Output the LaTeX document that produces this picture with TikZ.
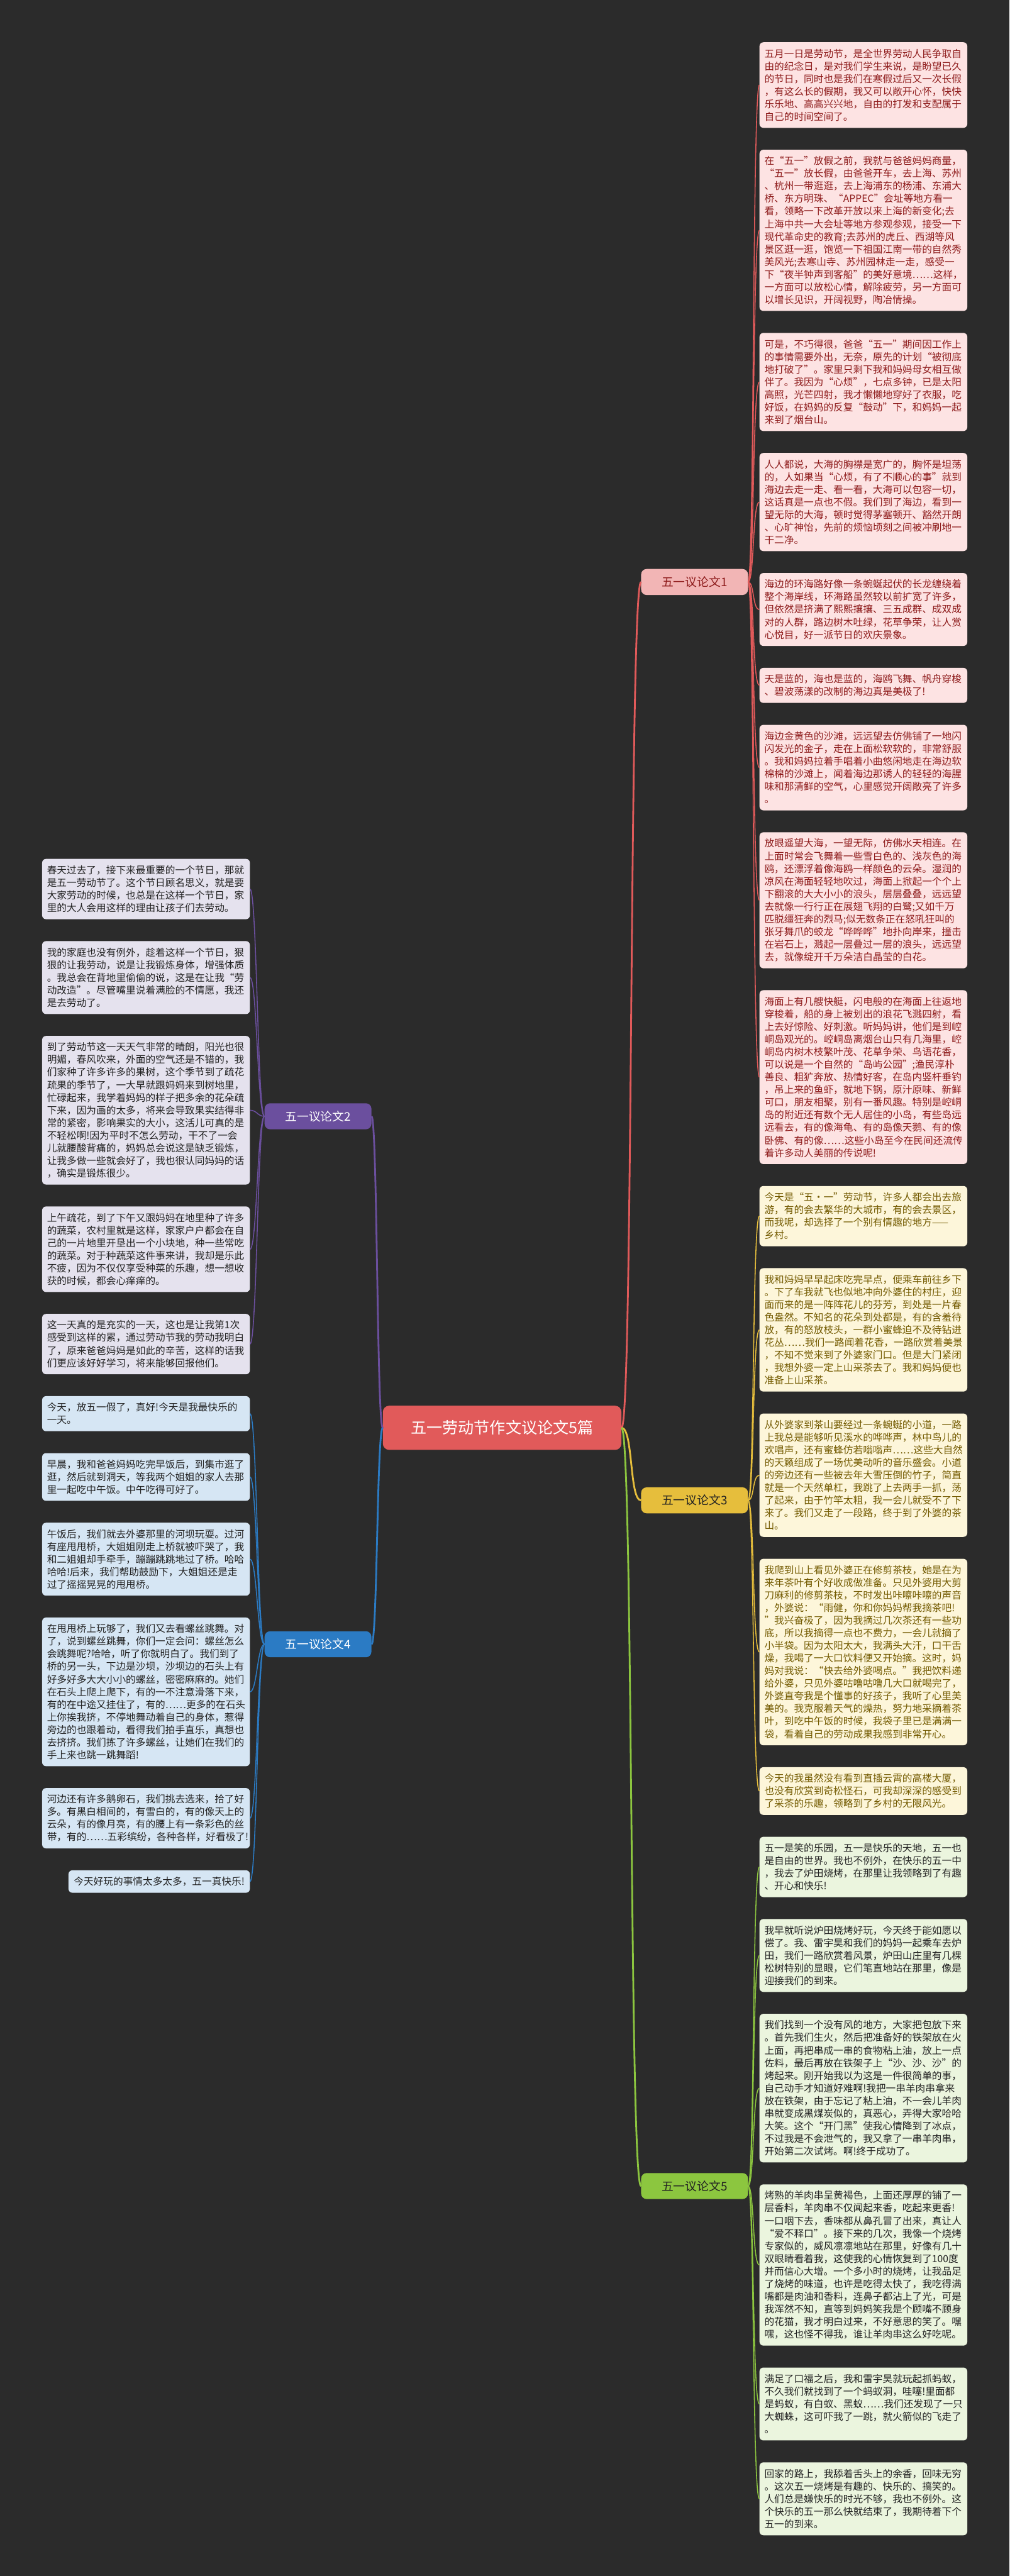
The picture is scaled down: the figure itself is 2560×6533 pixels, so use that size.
\documentclass[tikz,border=0pt]{standalone}
\usepackage{fontspec}
\setmainfont{Noto Sans CJK SC}
\definecolor{bg}{HTML}{2B2B2B}
\definecolor{ga}{HTML}{E15A5A}
\definecolor{gafill}{HTML}{FDE3E3}
\definecolor{gatext}{HTML}{8E1B1B}
\definecolor{gb}{HTML}{6B4F9E}
\definecolor{gbfill}{HTML}{E5E2EE}
\definecolor{gc}{HTML}{E6BE3C}
\definecolor{gcfill}{HTML}{FDF6DA}
\definecolor{gctext}{HTML}{735A00}
\definecolor{gd}{HTML}{2B7BC4}
\definecolor{gdfill}{HTML}{D6E6F4}
\definecolor{ge}{HTML}{8CC63F}
\definecolor{gefill}{HTML}{EBF5DE}
\definecolor{dark}{HTML}{222222}
\newcommand\leaffont{\fontsize{25pt}{32pt}\selectfont}
\tikzset{
  leaf/.style={rounded corners=10pt, text width=502pt, inner xsep=12.5pt, inner ysep=0pt, align=left, font=\leaffont},
  lines/.style={minimum height=#1*32pt+25pt},
  aleaf/.style={leaf, fill=gafill, text=gatext, anchor=north west},
  bleaf/.style={leaf, fill=gbfill, text=dark, anchor=north east},
  cleaf/.style={leaf, fill=gcfill, text=gctext, anchor=north west},
  dleaf/.style={leaf, fill=gdfill, text=dark, anchor=north east},
  eleaf/.style={leaf, fill=gefill, text=dark, anchor=north west},
  label/.style={rounded corners=14pt, minimum width=271pt, minimum height=66pt, inner sep=0pt, font=\fontsize{30pt}{36pt}\selectfont},
  conn/.style={line width=2.5pt},
  mainconn/.style={line width=4.5pt},
}
\begin{document}
\begin{tikzpicture}[x=1pt,y=-1pt]
\fill[bg] (0,0) rectangle (2560,6533);
\useasboundingbox (0,0) rectangle (2560,6533);

% center and branch labels
\node[rounded corners=16pt, fill=ga, text=white, minimum width=605pt, minimum height=112pt, inner sep=0pt, font=\fontsize{40pt}{48pt}\selectfont] (center) at (1273.5,3621) {五一劳动节作文议论文5篇};
\node[label, fill=ga!45!white, text=gatext] (la) at (1761.5,1476) {五一议论文1};
\node[label, fill=gb, text=white] (lb) at (806.5,2831) {五一议论文2};
\node[label, fill=gc, text=dark] (lc) at (1761.5,3805) {五一议论文3};
\node[label, fill=gd, text=white] (ld) at (806.5,4170) {五一议论文4};
\node[label, fill=ge, text=dark] (le) at (1761.5,5544) {五一议论文5};

% ---------- group 1
\node[aleaf, lines=6] (a1) at (1926,107) {五月一日是劳动节，是全世界劳动人民争取自\\由的纪念日，是对我们学生来说，是盼望已久\\的节日，同时也是我们在寒假过后又一次长假\\，有这么长的假期，我又可以敞开心怀，快快\\乐乐地、高高兴兴地，自由的打发和支配属于\\自己的时间空间了。};
\node[aleaf, lines=12] (a2) at (1926,379.5) {在“五一”放假之前，我就与爸爸妈妈商量，\\“五一”放长假，由爸爸开车，去上海、苏州\\、杭州一带逛逛，去上海浦东的杨浦、东浦大\\桥、东方明珠、“APPEC”会址等地方看一\\看，领略一下改革开放以来上海的新变化;去\\上海中共一大会址等地方参观参观，接受一下\\现代革命史的教育;去苏州的虎丘、西湖等风\\景区逛一逛，饱览一下祖国江南一带的自然秀\\美风光;去寒山寺、苏州园林走一走，感受一\\下“夜半钟声到客船”的美好意境……这样，\\一方面可以放松心情，解除疲劳，另一方面可\\以增长见识，开阔视野，陶冶情操。};
\node[aleaf, lines=7] (a3) at (1926,844) {可是，不巧得很，爸爸“五一”期间因工作上\\的事情需要外出，无奈，原先的计划“被彻底\\地打破了”。家里只剩下我和妈妈母女相互做\\伴了。我因为“心烦”，七点多钟，已是太阳\\高照，光芒四射，我才懒懒地穿好了衣服，吃\\好饭，在妈妈的反复“鼓动”下，和妈妈一起\\来到了烟台山。};
\node[aleaf, lines=7] (a4) at (1926,1148.5) {人人都说，大海的胸襟是宽广的，胸怀是坦荡\\的，人如果当“心烦，有了不顺心的事”就到\\海边去走一走、看一看，大海可以包容一切，\\这话真是一点也不假。我们到了海边，看到一\\望无际的大海，顿时觉得茅塞顿开、豁然开朗\\、心旷神怡，先前的烦恼顷刻之间被冲刷地一\\干二净。};
\node[aleaf, lines=5] (a5) at (1926,1453) {海边的环海路好像一条蜿蜒起伏的长龙缠绕着\\整个海岸线，环海路虽然较以前扩宽了许多，\\但依然是挤满了熙熙攘攘、三五成群、成双成\\对的人群，路边树木吐绿，花草争荣，让人赏\\心悦目，好一派节日的欢庆景象。};
\node[aleaf, lines=2] (a6) at (1926,1693.5) {天是蓝的，海也是蓝的，海鸥飞舞、帆舟穿梭\\、碧波荡漾的改制的海边真是美极了!};
\node[aleaf, lines=6] (a7) at (1926,1838) {海边金黄色的沙滩，远远望去仿佛铺了一地闪\\闪发光的金子，走在上面松软软的，非常舒服\\。我和妈妈拉着手唱着小曲悠闲地走在海边软\\棉棉的沙滩上，闻着海边那诱人的轻轻的海腥\\味和那清鲜的空气，心里感觉开阔敞亮了许多\\。};
\node[aleaf, lines=10] (a8) at (1926,2110.5) {放眼遥望大海，一望无际，仿佛水天相连。在\\上面时常会飞舞着一些雪白色的、浅灰色的海\\鸥，还漂浮着像海鸥一样颜色的云朵。湿润的\\凉风在海面轻轻地吹过，海面上掀起一个个上\\下翻滚的大大小小的浪头，层层叠叠，远远望\\去就像一行行正在展翅飞翔的白鹭;又如千万\\匹脱缰狂奔的烈马;似无数条正在怒吼狂叫的\\张牙舞爪的蛟龙“哗哗哗”地扑向岸来，撞击\\在岩石上，溅起一层叠过一层的浪头，远远望\\去，就像绽开千万朵洁白晶莹的白花。};
\node[aleaf, lines=13] (a9) at (1926,2511) {海面上有几艘快艇，闪电般的在海面上往返地\\穿梭着，船的身上被划出的浪花飞溅四射，看\\上去好惊险、好刺激。听妈妈讲，他们是到崆\\峒岛观光的。崆峒岛离烟台山只有几海里，崆\\峒岛内树木枝繁叶茂、花草争荣、鸟语花香，\\可以说是一个自然的“岛屿公园”;渔民淳朴\\善良、粗犷奔放、热情好客，在岛内竖杆垂钓\\，吊上来的鱼虾，就地下锅，原汁原味、新鲜\\可口，朋友相聚，别有一番风趣。特别是崆峒\\岛的附近还有数个无人居住的小岛，有些岛远\\远看去，有的像海龟、有的岛像天鹅、有的像\\卧佛、有的像……这些小岛至今在民间还流传\\着许多动人美丽的传说呢!};

% ---------- group 3
\node[cleaf, lines=4] (c1) at (1926,3007.5) {今天是“五·一”劳动节，许多人都会出去旅\\游，有的会去繁华的大城市，有的会去景区，\\而我呢，却选择了一个别有情趣的地方——\\乡村。};
\node[cleaf, lines=9] (c2) at (1926,3216) {我和妈妈早早起床吃完早点，便乘车前往乡下\\。下了车我就飞也似地冲向外婆住的村庄，迎\\面而来的是一阵阵花儿的芬芳，到处是一片春\\色盎然。不知名的花朵到处都是，有的含羞待\\放，有的怒放枝头，一群小蜜蜂迫不及待钻进\\花丛……我们一路闻着花香，一路欣赏着美景\\，不知不觉来到了外婆家门口。但是大门紧闭\\，我想外婆一定上山采茶去了。我和妈妈便也\\准备上山采茶。};
\node[cleaf, lines=9] (c3) at (1926,3584.5) {从外婆家到茶山要经过一条蜿蜒的小道，一路\\上我总是能够听见溪水的哗哗声，林中鸟儿的\\欢唱声，还有蜜蜂仿若嗡嗡声……这些大自然\\的天籁组成了一场优美动听的音乐盛会。小道\\的旁边还有一些被去年大雪压倒的竹子，简直\\就是一个天然单杠，我跳了上去两手一抓，荡\\了起来，由于竹竿太粗，我一会儿就受不了下\\来了。我们又走了一段路，终于到了外婆的茶\\山。};
\node[cleaf, lines=14] (c4) at (1926,3953) {我爬到山上看见外婆正在修剪茶枝，她是在为\\来年茶叶有个好收成做准备。只见外婆用大剪\\刀麻利的修剪茶枝，不时发出咔嚓咔嚓的声音\\，外婆说：“雨健，你和你妈妈帮我摘茶吧!\\”我兴奋极了，因为我摘过几次茶还有一些功\\底，所以我摘得一点也不费力，一会儿就摘了\\小半袋。因为太阳太大，我满头大汗，口干舌\\燥，我喝了一大口饮料便又开始摘。这时，妈\\妈对我说：“快去给外婆喝点。”我把饮料递\\给外婆，只见外婆咕噜咕噜几大口就喝完了，\\外婆直夸我是个懂事的好孩子，我听了心里美\\美的。我克服着天气的燥热，努力地采摘着茶\\叶，到吃中午饭的时候，我袋子里已是满满一\\袋，看着自己的劳动成果我感到非常开心。};
\node[cleaf, lines=3] (c5) at (1926,4481.5) {今天的我虽然没有看到直插云霄的高楼大厦，\\也没有欣赏到奇松怪石，可我却深深的感受到\\了采茶的乐趣，领略到了乡村的无限风光。};

% ---------- group 5
\node[eleaf, lines=4] (e1) at (1926,4658) {五一是笑的乐园，五一是快乐的天地，五一也\\是自由的世界。我也不例外，在快乐的五一中\\，我去了炉田烧烤，在那里让我领略到了有趣\\、开心和快乐!};
\node[eleaf, lines=5] (e2) at (1926,4866.5) {我早就听说炉田烧烤好玩，今天终于能如愿以\\偿了。我、雷宇昊和我们的妈妈一起乘车去炉\\田，我们一路欣赏着风景，炉田山庄里有几棵\\松树特别的显眼，它们笔直地站在那里，像是\\迎接我们的到来。};
\node[eleaf, lines=11] (e3) at (1926,5107) {我们找到一个没有风的地方，大家把包放下来\\。首先我们生火，然后把准备好的铁架放在火\\上面，再把串成一串的食物粘上油，放上一点\\佐料，最后再放在铁架子上“沙、沙、沙”的\\烤起来。刚开始我以为这是一件很简单的事，\\自己动手才知道好难啊!我把一串羊肉串拿来\\放在铁架，由于忘记了粘上油，不一会儿羊肉\\串就变成黑煤炭似的，真恶心，弄得大家哈哈\\大笑。这个“开门黑”使我心情降到了冰点，\\不过我是不会泄气的，我又拿了一串羊肉串，\\开始第二次试烤。啊!终于成功了。};
\node[eleaf, lines=12] (e4) at (1926,5539.5) {烤熟的羊肉串呈黄褐色，上面还厚厚的铺了一\\层香料，羊肉串不仅闻起来香，吃起来更香!\\一口咽下去，香味都从鼻孔冒了出来，真让人\\“爱不释口”。接下来的几次，我像一个烧烤\\专家似的，威风凛凛地站在那里，好像有几十\\双眼睛看着我，这使我的心情恢复到了100度\\并而信心大增。一个多小时的烧烤，让我品足\\了烧烤的味道，也许是吃得太快了，我吃得满\\嘴都是肉油和香料，连鼻子都沾上了光，可是\\我浑然不知，直等到妈妈笑我是个顾嘴不顾身\\的花猫，我才明白过来，不好意思的笑了。嘿\\嘿，这也怪不得我，谁让羊肉串这么好吃呢。};
\node[eleaf, lines=5] (e5) at (1926,6004) {满足了口福之后，我和雷宇昊就玩起抓蚂蚁，\\不久我们就找到了一个蚂蚁洞，哇噻!里面都\\是蚂蚁，有白蚁、黑蚁……我们还发现了一只\\大蜘蛛，这可吓我了一跳，就火箭似的飞走了\\。};
\node[eleaf, lines=5] (e6) at (1926,6244.5) {回家的路上，我舔着舌头上的余香，回味无穷\\。这次五一烧烤是有趣的、快乐的、搞笑的。\\人们总是嫌快乐的时光不够，我也不例外。这\\个快乐的五一那么快就结束了，我期待着下个\\五一的到来。};

% ---------- group 2
\node[bleaf, lines=4] (b1) at (634,2178) {春天过去了，接下来最重要的一个节日，那就\\是五一劳动节了。这个节日顾名思义，就是要\\大家劳动的时候，也总是在这样一个节日，家\\里的大人会用这样的理由让孩子们去劳动。};
\node[bleaf, lines=5] (b2) at (634,2386.5) {我的家庭也没有例外，趁着这样一个节日，狠\\狠的让我劳动，说是让我锻炼身体，增强体质\\。我总会在背地里偷偷的说，这是在让我“劳\\动改造”。尽管嘴里说着满脸的不情愿，我还\\是去劳动了。};
\node[bleaf, lines=11] (b3) at (634,2627) {到了劳动节这一天天气非常的晴朗，阳光也很\\明媚，春风吹来，外面的空气还是不错的，我\\们家种了许多许多的果树，这个季节到了疏花\\疏果的季节了，一大早就跟妈妈来到树地里，\\忙碌起来，我学着妈妈的样子把多余的花朵疏\\下来，因为画的太多，将来会导致果实结得非\\常的紧密，影响果实的大小，这活儿可真的是\\不轻松啊!因为平时不怎么劳动，干不了一会\\儿就腰酸背痛的，妈妈总会说这是缺乏锻炼，\\让我多做一些就会好了，我也很认同妈妈的话\\，确实是锻炼很少。};
\node[bleaf, lines=6] (b4) at (634,3059.5) {上午疏花，到了下午又跟妈妈在地里种了许多\\的蔬菜，农村里就是这样，家家户户都会在自\\己的一片地里开垦出一个小块地，种一些常吃\\的蔬菜。对于种蔬菜这件事来讲，我却是乐此\\不疲，因为不仅仅享受种菜的乐趣，想一想收\\获的时候，都会心痒痒的。};
\node[bleaf, lines=4] (b5) at (634,3332) {这一天真的是充实的一天，这也是让我第1次\\感受到这样的累，通过劳动节我的劳动我明白\\了，原来爸爸妈妈是如此的辛苦，这样的话我\\们更应该好好学习，将来能够回报他们。};

% ---------- group 4
\node[dleaf, lines=2] (d1) at (634,3540.5) {今天，放五一假了，真好!今天是我最快乐的\\一天。};
\node[dleaf, lines=3] (d2) at (634,3685) {早晨，我和爸爸妈妈吃完早饭后，到集市逛了\\逛，然后就到洞天，等我两个姐姐的家人去那\\里一起吃中午饭。中午吃得可好了。};
\node[dleaf, lines=5] (d3) at (634,3861.5) {午饭后，我们就去外婆那里的河坝玩耍。过河\\有座甩甩桥，大姐姐刚走上桥就被吓哭了，我\\和二姐姐却手牵手，蹦蹦跳跳地过了桥。哈哈\\哈哈!后来，我们帮助鼓励下，大姐姐还是走\\过了摇摇晃晃的甩甩桥。};
\node[dleaf, lines=11] (d4) at (634,4102) {在甩甩桥上玩够了，我们又去看螺丝跳舞。对\\了，说到螺丝跳舞，你们一定会问：螺丝怎么\\会跳舞呢?哈哈，听了你就明白了。我们到了\\桥的另一头，下边是沙坝，沙坝边的石头上有\\好多好多大大小小的螺丝，密密麻麻的。她们\\在石头上爬上爬下，有的一不注意滑落下来，\\有的在中途又挂住了，有的……更多的在石头\\上你挨我挤，不停地舞动着自己的身体，惹得\\旁边的也跟着动，看得我们拍手直乐，真想也\\去挤挤。我们拣了许多螺丝，让她们在我们的\\手上来也跳一跳舞蹈!};
\node[dleaf, lines=4] (d5) at (634,4534.5) {河边还有许多鹅卵石，我们挑去选来，拾了好\\多。有黑白相间的，有雪白的，有的像天上的\\云朵，有的像月亮，有的腰上有一条彩色的丝\\带，有的……五彩缤纷，各种各样，好看极了!};
\node[rounded corners=10pt, inner xsep=13.5pt, inner ysep=0pt, minimum height=57pt, font=\leaffont, fill=gdfill, text=dark, anchor=north east] (d6) at (634,4743) {今天好玩的事情太多太多，五一真快乐!};

% ---------- connectors
\draw[mainconn, ga] (center.east) .. controls +(30,0) and +(-30,0) .. (la.west);
\draw[mainconn, gc] (center.east) .. controls +(30,0) and +(-30,0) .. (lc.west);
\draw[mainconn, ge] (center.east) .. controls +(30,0) and +(-30,0) .. (le.west);
\draw[mainconn, gb] (center.west) .. controls +(-15,0) and +(15,0) .. (lb.east);
\draw[mainconn, gd] (center.west) .. controls +(-15,0) and +(15,0) .. (ld.east);
\foreach \n in {a1,a2,a3,a4,a5,a6,a7,a8,a9}
  \draw[conn, ga] (la.east) .. controls +(16,0) and +(-18,0) .. (\n.west);
\foreach \n in {c1,c2,c3,c4,c5}
  \draw[conn, gc] (lc.east) .. controls +(16,0) and +(-18,0) .. (\n.west);
\foreach \n in {e1,e2,e3,e4,e5,e6}
  \draw[conn, ge] (le.east) .. controls +(16,0) and +(-18,0) .. (\n.west);
\foreach \n in {b1,b2,b3,b4,b5}
  \draw[conn, gb] (lb.west) .. controls +(-18,0) and +(18,0) .. (\n.east);
\foreach \n in {d1,d2,d3,d4,d5,d6}
  \draw[conn, gd] (ld.west) .. controls +(-18,0) and +(18,0) .. (\n.east);
\end{tikzpicture}
\end{document}
